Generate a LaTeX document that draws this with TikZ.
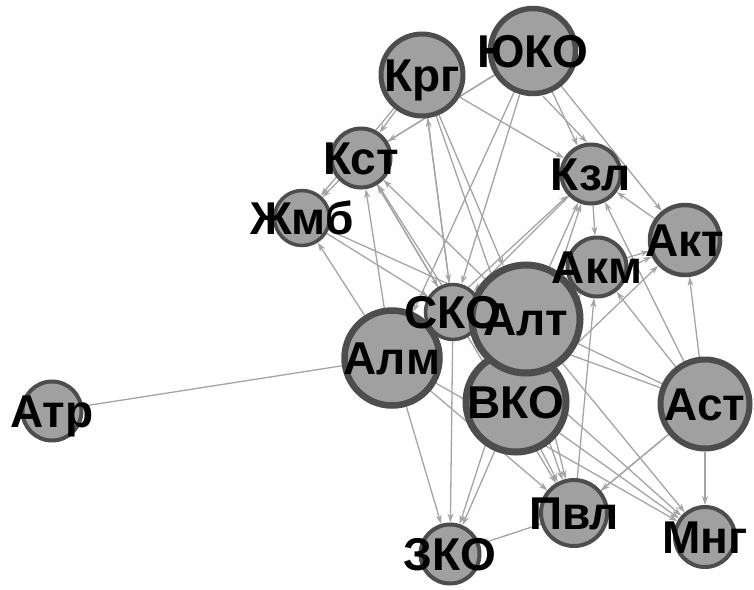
\documentclass[tikz,border=0pt]{standalone}
\usepackage{fontspec}
\setmainfont{Liberation Sans}
\usetikzlibrary{arrows.meta,backgrounds}
\definecolor{vfill}{HTML}{A0A0A0}
\definecolor{vline}{HTML}{4D4D4D}
\definecolor{eline}{HTML}{A4A4A4}
\tikzset{
  vert/.style 2 args={circle,draw=vline,fill=vfill,inner sep=0pt,line width=#2,minimum size=#1},
  vlab/.style={inner sep=0pt,text height=33pt,text depth=0pt,font=\fontsize{46}{46}\selectfont\bfseries},
  arc/.style={draw=eline,line width=1.3pt,-{Stealth[length=9pt,width=6pt]}},
  plain/.style={draw=eline,line width=1.3pt},
}
\begin{document}
\begin{tikzpicture}[x=1pt,y=-1pt]
\useasboundingbox (0,0) rectangle (754,589);
% vertices
\node[vert={82pt}{5pt}] (krg) at (422,75) {};
\node[vert={85pt}{5.5pt}] (yuko) at (533,51) {};
\node[vert={59pt}{4pt}] (kst) at (361,158) {};
\node[vert={55pt}{3.5pt}] (zhmb) at (302,218) {};
\node[vert={59pt}{4pt}] (kzl) at (591,174) {};
\node[vert={70pt}{4.5pt}] (akt) at (685,240) {};
\node[vert={59pt}{4pt}] (akm) at (597,267) {};
\node[vert={100pt}{7pt}] (vko) at (516,402) {};
\node[vert={55pt}{3.5pt}] (sko) at (453,312) {};
\node[vert={95pt}{6.5pt}] (alm) at (392,358) {};
\node[vert={108pt}{7pt}] (alt) at (526,319) {};
\node[vert={89pt}{6pt}] (ast) at (705,404) {};
\node[vert={66pt}{4pt}] (pvl) at (574,513) {};
\node[vert={60pt}{4pt}] (mng) at (705,537) {};
\node[vert={59pt}{4pt}] (zko) at (450,554) {};
\node[vert={59pt}{4pt}] (atr) at (52,411) {};
% labels
\node[vlab] (krg-t) at (krg) {Крг};
\node[vlab] (yuko-t) at (yuko) {ЮКО};
\node[vlab] (kst-t) at (kst) {Кст};
\node[vlab] (zhmb-t) at (zhmb) {Жмб};
\node[vlab] (kzl-t) at (kzl) {Кзл};
\node[vlab] (akt-t) at (akt) {Акт};
\node[vlab] (akm-t) at (akm) {Акм};
\node[vlab] (vko-t) at (vko) {ВКО};
\node[vlab] (sko-t) at (sko) {СКО};
\node[vlab] (alm-t) at (alm) {Алм};
\node[vlab] (alt-t) at (alt) {Алт};
\node[vlab] (ast-t) at (ast) {Аст};
\node[vlab] (pvl-t) at (pvl) {Пвл};
\node[vlab] (mng-t) at (mng) {Мнг};
\node[vlab] (zko-t) at (zko) {ЗКО};
\node[vlab] (atr-t) at (atr) {Атр};
% edges
\begin{pgfonlayer}{background}
\path[plain] (atr) -- (alm);
\path[arc] (krg) -- (kst);
\path[arc] (yuko) -- (kst);
\path[plain] (kst) -- (yuko);
\path[arc] (kst) -- (zhmb);
\path[arc] (krg) -- (zhmb);
\path[arc] (krg) -- (kzl);
\path[arc] (yuko) -- (kzl);
\path[arc] ([xshift=10pt]yuko.south) -- ([xshift=-4pt]kzl.north);
\path[arc] (yuko) -- (akt);
\path[arc] (yuko) -- (sko);
\path[arc] (yuko) -- (alm);
\path[arc] (krg) -- (sko);
\path[arc] (krg) -- (alt);
\path[arc] (krg) -- (pvl);
\path[arc] (sko) -- (krg);
\path[arc] (alm) -- (kst);
\path[arc] (sko) -- (kst);
\path[arc] (alt) -- (kst);
\path[arc] (vko) -- (kst);
\path[arc] (zhmb) -- (sko);
\path[arc] (zhmb) -- (alt);
\path[arc] (alm) -- (zhmb);
\path[arc] (kst) -- (sko);
\path[arc] (kzl) -- (sko);
\path[arc] (alm) -- (kzl);
\path[arc] (alt) -- (kzl);
\path[arc] (vko) -- (kzl);
\path[arc] (kzl) -- (akm);
\path[arc] (ast) -- (kzl);
\path[arc] (akt) -- (kzl);
\path[arc] (akm) -- (akt);
\path[arc] (alt) -- (akt);
\path[arc] (ast) -- (akt);
\path[arc] (ast) -- (akm);
\path[arc] (vko) -- (akt);
\path[arc] (ast) -- (mng);
\path[arc] (ast) -- (pvl);
\path[plain] (pvl) -- (ast);
\path[plain] (alt) -- (ast);
\path[arc] (ast) -- (sko);
\path[arc] (pvl) -- (zko);
\path[arc] (vko) -- (zko);
\path[arc] (alt) -- (zko);
\path[arc] (alm) -- (zko);
\path[arc] (sko) -- (zko);
\path[arc] (vko) -- (pvl);
\path[arc] (alt) -- (pvl);
\path[arc] (alm) -- (pvl);
\path[arc] (sko) -- (pvl);
\path[arc] (pvl) -- (akm);
\path[arc] (vko) -- (mng);
\path[arc] (alt) -- (mng);
\path[arc] (sko) -- (mng);
\path[arc] (alm) -- (mng);
\path[arc] (vko) -- (akm);
\end{pgfonlayer}
\end{tikzpicture}
\end{document}
